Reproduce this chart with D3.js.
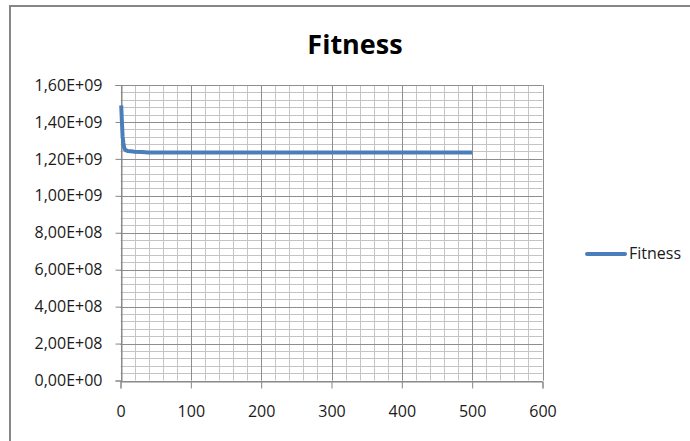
<!DOCTYPE html>
<html><head><meta charset="utf-8">
<script src="https://cdn.jsdelivr.net/npm/d3@7"></script>
<style>body{margin:0;background:#fff}svg{display:block}</style>
</head><body>
<script>
const title = "Fitness";
const seriesName = "Fitness";
const generation = [1, 2, 3, 4, 5, 6, 8, 10, 15, 20, 30, 40, 60, 100, 200, 300, 400, 500];
const fitness = [1.49e9, 1.40e9, 1.32e9, 1.29e9, 1.265e9, 1.252e9, 1.246e9, 1.243e9, 1.241e9, 1.239e9, 1.237e9, 1.235e9, 1.234e9, 1.234e9, 1.234e9, 1.234e9, 1.234e9, 1.234e9];
const xTicks = [0, 100, 200, 300, 400, 500, 600];
const yTicks = [0, 2e8, 4e8, 6e8, 8e8, 1e9, 1.2e9, 1.4e9, 1.6e9];
const yTickLabels = ["0,00E+00","2,00E+08","4,00E+08","6,00E+08","8,00E+08","1,00E+09","1,20E+09","1,40E+09","1,60E+09"];

const W = 690, H = 441;
const font = "'Open Sans', sans-serif";
const svg = d3.select("body").append("svg").attr("width", W).attr("height", H);

// frame (top + left only visible)
svg.append("line").attr("x1",10).attr("x2",W).attr("y1",6).attr("y2",6).attr("stroke","#878787").attr("stroke-width",2);
svg.append("line").attr("x1",10).attr("x2",10).attr("y1",5).attr("y2",H).attr("stroke","#878787").attr("stroke-width",2);

const x = d3.scaleLinear().domain([0, 600]).range([120.5, 542.5]);
const y = d3.scaleLinear().domain([0, 1.6e9]).range([380.5, 85]);

const g = svg.append("g");
// minor grid
const xMinor = d3.range(0, 601, 20), yMinor = d3.range(0, 1.6e9 + 1, 4e7);
g.selectAll(".xm").data(xMinor).join("line")
  .attr("x1", d => Math.round(x(d)) + 0.5).attr("x2", d => Math.round(x(d)) + 0.5)
  .attr("y1", y(1.6e9)).attr("y2", y(0)).attr("stroke", "#c4c4c4").attr("stroke-width", 1);
g.selectAll(".ym").data(yMinor).join("line")
  .attr("y1", d => Math.round(y(d)) + 0.5).attr("y2", d => Math.round(y(d)) + 0.5)
  .attr("x1", x(0)).attr("x2", x(600)).attr("stroke", "#c4c4c4").attr("stroke-width", 1);
// major grid
g.selectAll(".xM").data(xTicks).join("line")
  .attr("x1", d => Math.round(x(d)) + 0.5).attr("x2", d => Math.round(x(d)) + 0.5)
  .attr("y1", y(1.6e9)).attr("y2", y(0)).attr("stroke", "#8e8e8e").attr("stroke-width", 1);
g.selectAll(".yM").data(yTicks).join("line")
  .attr("y1", d => Math.round(y(d)) + 0.5).attr("y2", d => Math.round(y(d)) + 0.5)
  .attr("x1", x(0)).attr("x2", x(600)).attr("stroke", "#8e8e8e").attr("stroke-width", 1);

// axes
const yAxis = d3.axisLeft(y).tickValues(yTicks).tickSize(6).tickPadding(13)
  .tickFormat((d, i) => yTickLabels[i]);
const ya = svg.append("g").attr("transform", `translate(${Math.round(x(0)) + 0.5},0)`).call(yAxis);
const xAxis = d3.axisBottom(x).tickValues(xTicks).tickSize(7).tickPadding(17).tickFormat(d3.format("d"));
const xa = svg.append("g").attr("transform", `translate(0,${Math.round(y(0)) + 0.5})`).call(xAxis);
[ya, xa].forEach(a => {
  a.select(".domain").attr("stroke", "#868686");
  a.selectAll(".tick line").attr("stroke", "#868686");
  a.selectAll("text").attr("font-family", font).attr("font-size", "16px").attr("fill", "#1a1a1a");
});

// line
const line = d3.line().x((d, i) => x(generation[i])).y(d => y(d));
svg.append("path").datum(fitness).attr("d", line).attr("fill", "none")
  .attr("stroke", "#4a7ebb").attr("stroke-width", 4).attr("stroke-linejoin", "round");

// title
svg.append("text").attr("x", 355).attr("y", 54).attr("text-anchor", "middle")
  .attr("font-family", font).attr("font-weight", "bold").attr("font-size", "27px").attr("fill", "#000").text(title);

// legend
svg.append("line").attr("x1", 587).attr("x2", 625).attr("y1", 254).attr("y2", 254)
  .attr("stroke", "#4a7ebb").attr("stroke-width", 4).attr("stroke-linecap", "round");
svg.append("text").attr("x", 629).attr("y", 259).attr("font-family", font).attr("font-size", "16px")
  .attr("fill", "#1a1a1a").text(seriesName);
</script>
</body></html>
